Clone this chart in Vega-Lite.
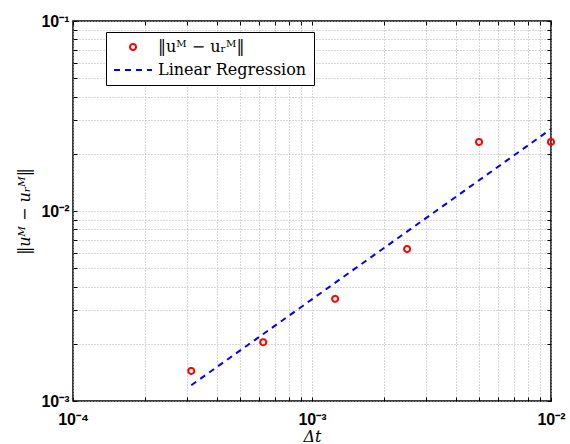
{
  "$schema": "https://vega.github.io/schema/vega-lite/v6.json",
  "width": 478,
  "height": 380,
  "autosize": {"type": "none"},
  "padding": {"left": 73, "top": 21, "right": 19, "bottom": 43},
  "background": "white",
  "config": {
    "view": {"stroke": "black", "strokeWidth": 1.5},
    "axis": {"tickColor": "black", "tickWidth": 1, "domain": false},
    "legend": {
      "orient": "none",
      "legendX": 33,
      "legendY": 11,
      "padding": 7,
      "strokeColor": "black",
      "fillColor": "white",
      "labelFont": "DejaVu Serif",
      "labelFontSize": 16,
      "labelColor": "black",
      "rowPadding": 7,
      "symbolSize": 36,
      "symbolStrokeWidth": 2,
      "symbolOffset": 12,
      "labelOffset": 17
    }
  },
  "layer": [
    {
      "data": {"values": [
        {"dt": 0.0003125, "err": 0.00144, "series": "‖uᴹ − uᵣᴹ‖"},
        {"dt": 0.000625, "err": 0.00204, "series": "‖uᴹ − uᵣᴹ‖"},
        {"dt": 0.00125, "err": 0.00345, "series": "‖uᴹ − uᵣᴹ‖"},
        {"dt": 0.0025, "err": 0.00631, "series": "‖uᴹ − uᵣᴹ‖"},
        {"dt": 0.005, "err": 0.0231, "series": "‖uᴹ − uᵣᴹ‖"},
        {"dt": 0.01, "err": 0.0231, "series": "‖uᴹ − uᵣᴹ‖"}
      ]},
      "mark": {"type": "point", "filled": false, "strokeWidth": 2, "size": 36, "opacity": 1},
      "encoding": {
        "x": {
          "field": "dt", "type": "quantitative",
          "scale": {"type": "log", "domain": [0.0001, 0.01], "nice": false},
          "axis": {
            "orient": "bottom",
            "values": [0.0001,0.0002,0.0003,0.0004,0.0005,0.0006,0.0007,0.0008,0.0009,0.001,0.002,0.003,0.004,0.005,0.006,0.007,0.008,0.009,0.01],
            "labelExpr": "abs(log(datum.value)/LN10 - round(log(datum.value)/LN10)) < 0.000001 ? '10' + ['⁰','⁻¹','⁻²','⁻³','⁻⁴'][-round(log(datum.value)/LN10)] : ''",
            "labelFlush": false,
            "labelOverlap": false,
            "labelFont": "Liberation Sans",
            "labelFontWeight": "bold",
            "labelFontSize": 16,
            "labelColor": "black",
            "tickSize": -4,
            "labelPadding": 14,
            "grid": true,
            "gridColor": "#b0b0b0",
            "gridDash": [1, 2],
            "gridWidth": 1,
            "title": "Δt",
            "titleFont": "DejaVu Serif",
            "titleFontStyle": "italic",
            "titleFontWeight": "normal",
            "titleFontSize": 16,
            "titleColor": "black",
            "titlePadding": 1
          }
        },
        "y": {
          "field": "err", "type": "quantitative",
          "scale": {"type": "log", "domain": [0.001, 0.1], "nice": false},
          "axis": {
            "orient": "left",
            "values": [0.001,0.002,0.003,0.004,0.005,0.006,0.007,0.008,0.009,0.01,0.02,0.03,0.04,0.05,0.06,0.07,0.08,0.09,0.1],
            "labelExpr": "abs(log(datum.value)/LN10 - round(log(datum.value)/LN10)) < 0.000001 ? '10' + ['⁰','⁻¹','⁻²','⁻³','⁻⁴'][-round(log(datum.value)/LN10)] : ''",
            "labelFlush": false,
            "labelOverlap": false,
            "labelFont": "Liberation Sans",
            "labelFontWeight": "bold",
            "labelFontSize": 16,
            "labelColor": "black",
            "tickSize": -4,
            "labelPadding": 8,
            "grid": true,
            "gridColor": "#b0b0b0",
            "gridDash": [1, 2],
            "gridWidth": 1,
            "title": "‖uᴹ − uᵣᴹ‖",
            "titleFont": "DejaVu Serif",
            "titleFontStyle": "italic",
            "titleFontWeight": "normal",
            "titleFontSize": 16,
            "titleColor": "black",
            "titlePadding": 8
          }
        },
        "color": {
          "field": "series", "type": "nominal",
          "scale": {"domain": ["‖uᴹ − uᵣᴹ‖", "Linear Regression"], "range": ["#ff0000", "#0000ff"]},
          "legend": {"title": null}
        },
        "shape": {
          "field": "series", "type": "nominal",
          "scale": {"domain": ["‖uᴹ − uᵣᴹ‖", "Linear Regression"], "range": ["circle", "M-6.33,0H6.33"]},
          "legend": {"title": null}
        },
        "strokeDash": {
          "field": "series", "type": "nominal",
          "scale": {"domain": ["‖uᴹ − uᵣᴹ‖", "Linear Regression"], "range": [[1, 0], [6, 5]]},
          "legend": {"title": null}
        }
      }
    },
    {
      "data": {"values": [
        {"dt": 0.0003125, "err": 0.00121, "series": "Linear Regression"},
        {"dt": 0.01, "err": 0.0270, "series": "Linear Regression"}
      ]},
      "mark": {"type": "line", "strokeWidth": 2},
      "encoding": {
        "x": {
          "field": "dt", "type": "quantitative",
          "scale": {"type": "log", "domain": [0.0001, 0.01], "nice": false},
          "axis": {
            "orient": "top",
            "values": [0.0001,0.0002,0.0003,0.0004,0.0005,0.0006,0.0007,0.0008,0.0009,0.001,0.002,0.003,0.004,0.005,0.006,0.007,0.008,0.009,0.01],
            "labels": false,
            "grid": false,
            "title": null,
            "tickSize": -4
          }
        },
        "y": {
          "field": "err", "type": "quantitative",
          "scale": {"type": "log", "domain": [0.001, 0.1], "nice": false},
          "axis": {
            "orient": "right",
            "values": [0.001,0.002,0.003,0.004,0.005,0.006,0.007,0.008,0.009,0.01,0.02,0.03,0.04,0.05,0.06,0.07,0.08,0.09,0.1],
            "labels": false,
            "grid": false,
            "title": null,
            "tickSize": -4
          }
        },
        "color": {"field": "series", "type": "nominal", "legend": {"title": null}},
        "strokeDash": {"field": "series", "type": "nominal", "legend": {"title": null}}
      }
    }
  ],
  "resolve": {"axis": {"x": "independent", "y": "independent"}}
}
